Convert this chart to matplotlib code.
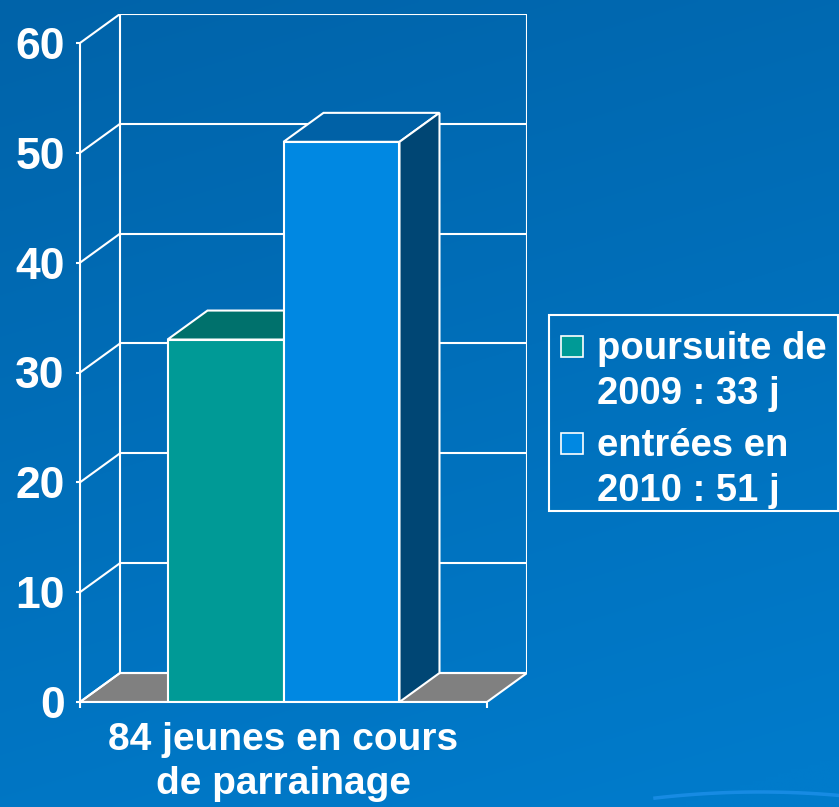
import matplotlib
matplotlib.use('Agg')
import matplotlib.pyplot as plt
import numpy as np
from matplotlib.patches import Polygon, Rectangle
from matplotlib.colors import to_rgb

# ---------------- data ----------------
categories = ["84 jeunes en cours\nde parrainage"]
series_names = ["poursuite de\n2009 : 33 j", "entrées en\n2010 : 51 j"]
series_values = [33, 51]
yticks = [0, 10, 20, 30, 40, 50, 60]

# ---------------- style ----------------
front_colors = ["#009a96", "#0088e2"]
top_colors = ["#00716c", "#0061a6"]
side_colors = ["#005b58", "#004674"]
floor_color = "#808080"
FONT = "Liberation Sans"
plt.rcParams['font.family'] = [FONT, 'DejaVu Sans']
plt.rcParams['font.weight'] = 'bold'

W, H = 839, 807
fig = plt.figure(figsize=(W / 100, H / 100), dpi=100)

# background gradient
bg = fig.add_axes([0, 0, 1, 1], zorder=-10)
c0 = np.array(to_rgb("#0063a9"))
c1 = np.array(to_rgb("#007bcb"))
yy, xx = np.mgrid[0:1:200j, 0:1:200j]
t = np.clip(0.8 * yy + 0.25 * xx, 0, 1)[..., None]
img = c0 * (1 - t) + c1 * t
bg.imshow(img, extent=[0, W, H, 0], aspect='auto', interpolation='bilinear')
# faint swoosh bottom-right
sx = np.linspace(655, 839, 60)
sy = 792 + 0.00055 * (sx - 760) ** 2
bg.plot(sx, sy, color="#1e90ea", lw=2.5, alpha=0.8)
bg.set_xlim(0, W)
bg.set_ylim(H, 0)
bg.axis('off')

# main 3D-like axes
DX = 40 / 407
DY = 29 / 659 * 60
ax = fig.add_axes([80 / W, (H - 702) / H, 447 / W, 688 / H])
ax.set_xlim(0, 1 + DX)
ax.set_ylim(0, 60 + DY)
ax.patch.set_alpha(0)
LW = 1.5
for s in ['top', 'right']:
    ax.spines[s].set_visible(False)
ax.spines['left'].set_bounds(0, 60)
ax.spines['bottom'].set_bounds(0, 1)
for s in ['left', 'bottom']:
    ax.spines[s].set_color('white')
    ax.spines[s].set_linewidth(LW)
    ax.spines[s].set_zorder(6)

ax.set_yticks(yticks)
ax.set_yticklabels([str(v) for v in yticks])
ax.tick_params(axis='y', direction='out', length=3, width=LW, color='white',
               labelcolor='white', labelsize=32, pad=8)
for lab in ax.get_yticklabels():
    lab.set_fontweight('bold')
ax.set_xticks([])
ax.set_xticks([0, 1], minor=True)
ax.tick_params(axis='x', which='minor', direction='out', length=4.5, width=LW, color='white')

# walls and floor
ax.add_patch(Polygon([(0, 0), (1, 0), (1 + DX, DY), (DX, DY)], closed=True,
                     fc=floor_color, ec='white', lw=LW, zorder=1))
for v in yticks:
    ax.plot([0, DX], [v, v + DY], color='white', lw=LW, zorder=1.5, solid_capstyle='butt')
    ax.plot([DX, 1 + DX], [v + DY, v + DY], color='white', lw=LW, zorder=1.5)
ax.plot([DX, DX], [DY, 60 + DY], color='white', lw=LW, zorder=1.5)
ax.plot([1 + DX, 1 + DX], [DY, 60 + DY], color='white', lw=LW, zorder=1.5)

# bars
bw = 0.285
start = 0.5 - bw * len(series_values) / 2
for i, v in enumerate(series_values):
    x0 = start + i * bw
    x1 = x0 + bw
    z = 3 + i
    ax.bar(x0, v, width=bw, align='edge', color=front_colors[i], edgecolor='white',
           linewidth=LW, zorder=z + 0.2)
    ax.add_patch(Polygon([(x0, v), (x1, v), (x1 + DX, v + DY), (x0 + DX, v + DY)],
                         closed=True, fc=top_colors[i], ec='white', lw=LW, zorder=z))
    ax.add_patch(Polygon([(x1, 0), (x1 + DX, DY), (x1 + DX, v + DY), (x1, v)],
                         closed=True, fc=side_colors[i], ec='white', lw=LW, zorder=z))

# category label
ax.annotate(categories[0], xy=(0.5, 0), xycoords='data', xytext=(0, -20),
            textcoords='offset pixels', ha='center', va='top', color='white',
            fontsize=28, fontweight='bold', linespacing=1.28, annotation_clip=False)

# legend (manual, figure pixels)
def fx(px):
    return px / W

def fy(py):
    return (H - py) / H

fig.patches.append(Rectangle((fx(549), fy(511)), fx(838) - fx(549), fy(315) - fy(511),
                             transform=fig.transFigure, fc='none', ec='white', lw=LW))
sq_top = [336, 433]
txt_top = [331, 428]
for i, name in enumerate(series_names):
    fig.patches.append(Rectangle((fx(561), fy(sq_top[i] + 21)), fx(583) - fx(561), fy(sq_top[i]) - fy(sq_top[i] + 21),
                                 transform=fig.transFigure, fc=front_colors[i], ec='white', lw=1.2))
    fig.text(fx(597), fy(txt_top[i]), name, ha='left', va='top', color='white',
             fontsize=27.5, fontweight='bold', linespacing=1.32)

fig.savefig('out.png', dpi=100)
